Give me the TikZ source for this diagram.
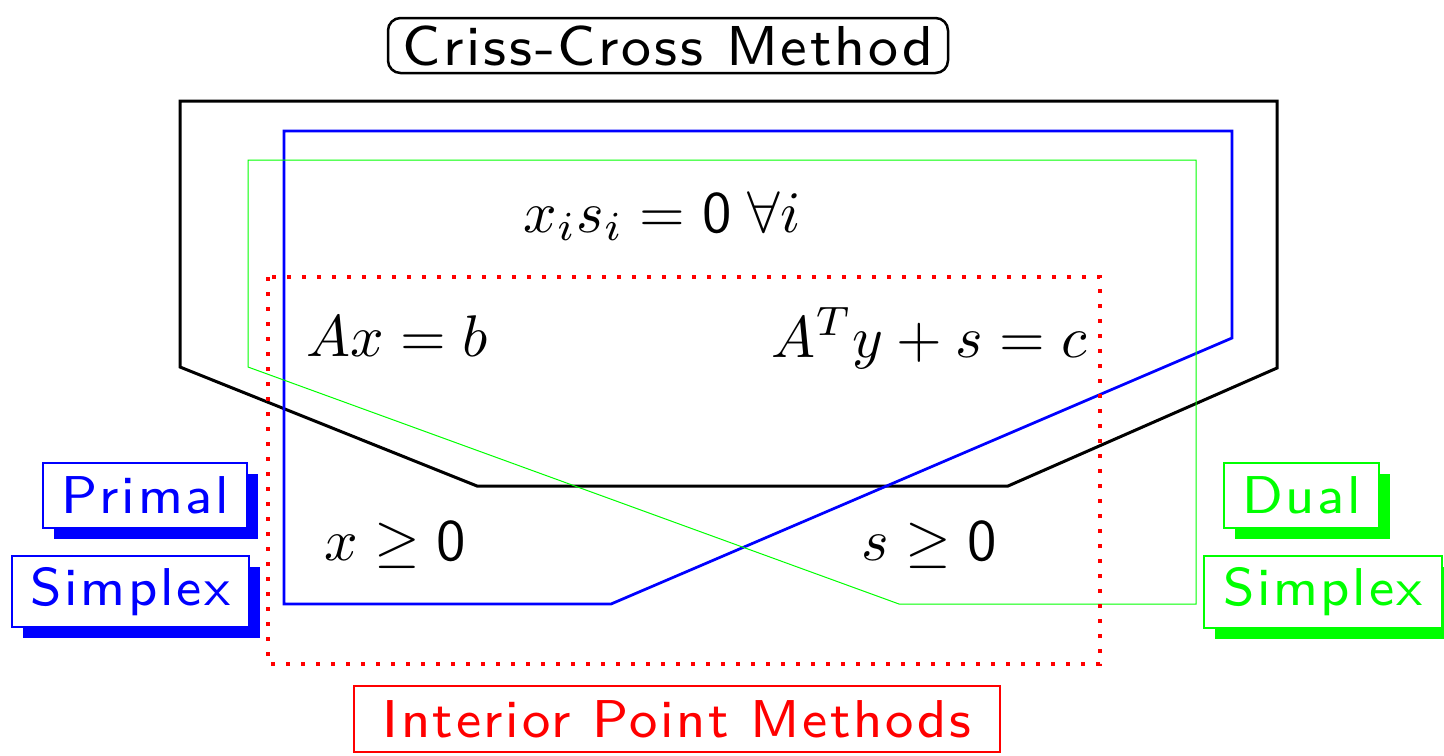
\documentclass[tikz,border=0pt]{standalone}
\usepackage{fontspec}
\usepackage{graphicx}
\usetikzlibrary{shadows}

\newfontfamily\slidesf{lmsans8-regular.otf}[LetterSpace=5]
\newcommand{\bigeq}[1]{\scalebox{2.35}{$#1$}}

\begin{document}
\begin{tikzpicture}[x=0.4pt, y=-0.4pt,
    eq/.style={anchor=base, inner sep=0pt},
    tagbox/.style={draw, line width=0.8pt, fill=white, inner sep=0pt, minimum height=26pt, font=\slidesf\fontsize{21.3}{26}\selectfont},
    shadowbox/.style={tagbox, draw=#1, text=#1, general shadow={fill=#1, shadow xshift=4.4pt, shadow yshift=-4.4pt}}]

    \useasboundingbox (0,0) rectangle (1444,755);

    % method regions
    \draw[line width=1.2pt] (180,101) -- (1277,101) -- (1277,368) -- (1008,486) -- (477,486) -- (180,367) -- cycle;
    \draw[blue, line width=1.1pt] (284,131) -- (1232,131) -- (1232,338) -- (611,604) -- (284,604) -- cycle;
    \draw[green, line width=0.4pt] (248,160) -- (1196,160) -- (1196,604) -- (899,604) -- (248,367) -- cycle;
    \draw[red, line width=1.6pt, dash pattern=on 1.6pt off 4.4pt] (268,277) rectangle (1100,664);

    \node at (668, 45.5) (CC) [draw, line width=1pt, rounded corners=5pt, inner sep=0pt, minimum width=224pt, minimum height=22pt, font=\slidesf\fontsize{22.5}{27}\selectfont] {Criss-Cross Method};

    \node at (662, 232) (comp) [eq] {\bigeq{x_i s_i = \mathsf{0} \;\forall i}};
    \node at (397.5, 356) (primeq) [eq] {\bigeq{Ax = b}};
    \node at (929, 357) (dualeq) [eq] {\bigeq{A^T y + s = c}};
    \node at (395, 560) (xpos) [eq] {\bigeq{x \geq \mathsf{0}}};
    \node at (929.5, 560) (spos) [eq] {\bigeq{s \geq \mathsf{0}}};

    \node at (145, 495.5) (P1) [shadowbox=blue, minimum width=81.6pt] {Primal};
    \node at (130.5, 591.5) (P2) [shadowbox=blue, minimum width=94.8pt, minimum height=28.4pt] {Simplex};
    \node at (1301.5, 495.5) (D1) [shadowbox=green, minimum width=62pt] {Dual};
    \node at (1323, 592) (D2) [shadowbox=green, minimum width=95.2pt, minimum height=28.6pt] {Simplex};

    \node at (677, 719) (IP) [tagbox, draw=red, text=red, minimum width=258.4pt, minimum height=26.4pt] {Interior Point Methods};

\end{tikzpicture}
\end{document}
